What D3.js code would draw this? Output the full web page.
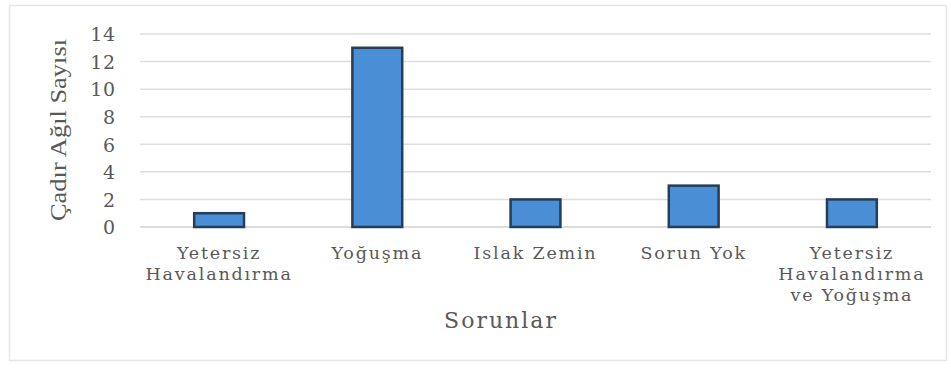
<!DOCTYPE html>
<html>
<head>
<meta charset="utf-8">
<script src="https://cdn.jsdelivr.net/npm/d3@7"></script>
<style>
  html, body { margin: 0; padding: 0; background: #fff; }
  svg { display: block; }
  text { font-family: "DejaVu Serif", "Liberation Serif", serif; fill: #595959; }
</style>
</head>
<body>
<svg id="chart" width="951" height="373"></svg>
<script>
// Problem categories (each label split into lines)
const categories = [
  ["Yetersiz", "Havalandırma"],
  ["Yoğuşma"],
  ["Islak Zemin"],
  ["Sorun Yok"],
  ["Yetersiz", "Havalandırma", "ve Yoğuşma"]
];
// Number of tent shelters per problem
const counts = [1, 13, 2, 3, 2];
const yTicks = [0, 2, 4, 6, 8, 10, 12, 14];
const xTitle = "Sorunlar";
const yTitle = "Çadır Ağıl Sayısı";

const svg = d3.select("#chart");
const margin = { left: 140, top: 34 };
const plotW = 931 - margin.left;
const plotH = 227 - margin.top;

// Outer frame
svg.append("rect")
  .attr("x", 9.5).attr("y", 5.5)
  .attr("width", 937).attr("height", 355)
  .attr("fill", "#fff").attr("stroke", "#e6e6e6").attr("stroke-width", 1.5);

const keys = categories.map((c, i) => i);
const x = d3.scaleBand().domain(keys).range([margin.left, margin.left + plotW]).paddingInner(0.685).paddingOuter(0.3425);
const y = d3.scaleLinear().domain([0, 14]).range([margin.top + plotH, margin.top]);

// Gridlines
svg.append("g")
  .selectAll("line")
  .data(yTicks)
  .join("line")
  .attr("x1", margin.left).attr("x2", margin.left + plotW)
  .attr("y1", d => y(d)).attr("y2", d => y(d))
  .attr("stroke", d => d === 0 ? "#d0d0d0" : "#dedede")
  .attr("stroke-width", 1.5);

// Y axis labels
const yAxis = d3.axisLeft(y).tickValues(yTicks).tickSize(0).tickPadding(0);
const yg = svg.append("g").attr("transform", `translate(${116},0)`).call(yAxis);
yg.select(".domain").remove();
yg.selectAll("text")
  .style("font-family", '"DejaVu Serif", serif')
  .style("font-size", "19px")
  .style("letter-spacing", "0.8px")
  .attr("fill", "#595959")
  .attr("dy", "0.36em");

// Bars
svg.append("g")
  .selectAll("rect")
  .data(counts)
  .join("rect")
  .attr("x", (d, i) => x(i))
  .attr("y", d => y(d))
  .attr("width", x.bandwidth())
  .attr("height", d => y(0) - y(d))
  .attr("fill", "#4a8fd6")
  .attr("stroke", "#253d57")
  .attr("stroke-width", 2.5);

// Category labels
const xLab = svg.append("g");
categories.forEach((lines, i) => {
  const cx = x(i) + x.bandwidth() / 2;
  const t = xLab.append("text")
    .attr("x", cx)
    .attr("y", 259)
    .attr("text-anchor", "middle")
    .style("font-size", "17.5px")
    .style("letter-spacing", "1.8px");
  lines.forEach((ln, j) => {
    t.append("tspan").attr("x", cx).attr("dy", j === 0 ? 0 : 21).text(ln);
  });
});

// Axis titles
svg.append("text")
  .attr("x", 501).attr("y", 328)
  .attr("text-anchor", "middle")
  .style("font-size", "22px")
  .style("letter-spacing", "2px")
  .text(xTitle);

svg.append("text")
  .attr("transform", `translate(66,130) rotate(-90)`)
  .attr("text-anchor", "middle")
  .attr("textLength", 182)
  .attr("lengthAdjust", "spacingAndGlyphs")
  .style("font-size", "23px")
  .style("font-family", '"Liberation Serif", serif')
  .text(yTitle);
</script>
</body>
</html>
